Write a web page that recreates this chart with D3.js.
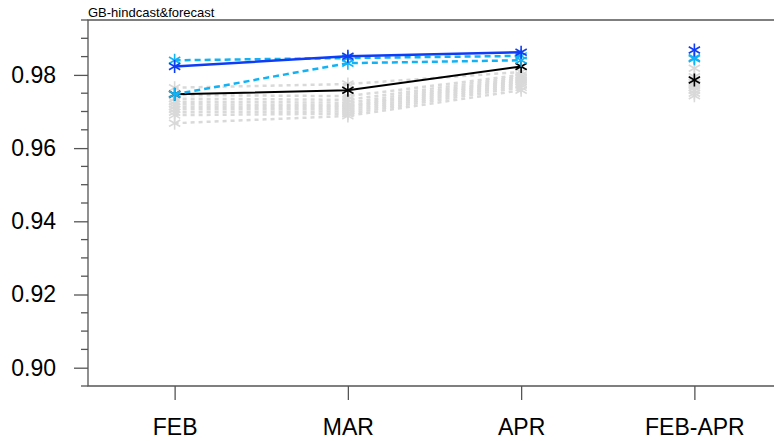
<!DOCTYPE html>
<html>
<head>
<meta charset="utf-8">
<script src="https://cdn.jsdelivr.net/npm/d3@7"></script>
<style>
  body { margin: 0; background: #fff; }
  svg { display: block; font-family: "Liberation Sans", Arial, Helvetica, sans-serif; }
</style>
</head>
<body>
<svg id="chart" width="774" height="441"></svg>
<script>
// categories on the x axis; the last one is a season mean shown as markers only
const periods = [ 'FEB', 'MAR', 'APR', 'FEB-APR' ]
const yTicks = [ 0.90, 0.92, 0.94, 0.96, 0.98 ]
const title = 'GB-hindcast&forecast'

// series values, one per period
const blueSolid = [ 0.9823, 0.9851, 0.9862, 0.9868 ]
const blackSolid = [ 0.9747, 0.9758, 0.9823, 0.9786 ]
const cyanUpper = [ 0.9840, 0.9846, 0.9852, 0.9847 ]
const cyanLower = [ 0.9747, 0.9832, 0.9840, 0.9844 ]

// grey ensemble members
const greyMembers = [
  [ 0.9765, 0.9775, 0.9808, 0.9818 ],
  [ 0.9745, 0.9742, 0.9800, 0.9795 ],
  [ 0.9735, 0.9732, 0.9795, 0.9788 ],
  [ 0.9727, 0.9724, 0.9790, 0.9780 ],
  [ 0.9720, 0.9717, 0.9786, 0.9775 ],
  [ 0.9713, 0.9712, 0.9782, 0.9770 ],
  [ 0.9706, 0.9706, 0.9777, 0.9765 ],
  [ 0.9698, 0.9700, 0.9772, 0.9758 ],
  [ 0.9690, 0.9694, 0.9766, 0.9750 ],
  [ 0.9668, 0.9688, 0.9758, 0.9743 ]
]

const svg = d3.select( '#chart' )
const margin = { left: 88, top: 20, right: -7, bottom: 55 }
const width = 774 - margin.left - margin.right,
      height = 441 - margin.top - margin.bottom

const x = d3.scalePoint()
  .domain( periods )
  .range( [ 0, width ] )
  .padding( 0.5 )

const y = d3.scaleLinear()
  .domain( [ 0.895, 0.995 ] )
  .range( [ height, 0 ] )

const g = svg.append( 'g' )
  .attr( 'transform', `translate(${margin.left},${margin.top})` )

const axisColor = '#555'

// frame
g.append( 'path' )
  .attr( 'd', `M${width},0H0V${height}H${width}` )
  .attr( 'fill', 'none' )
  .attr( 'stroke', axisColor )
  .attr( 'stroke-width', 1.3 )

// y axis: majors with labels, minors every 0.005
const yAxis = g.append( 'g' )
yAxis.call( d3.axisLeft( y ).tickValues( yTicks ).tickFormat( d3.format( '.2f' ) ).tickSize( 14 ).tickPadding( 18 ) )
yAxis.select( '.domain' ).remove()
yAxis.selectAll( 'line' ).attr( 'stroke', axisColor ).attr( 'stroke-width', 1.3 )
yAxis.selectAll( 'text' ).attr( 'font-size', 23 ).attr( 'fill', '#000' ).attr( 'font-family', null )

const minor = d3.range( 0, 21 ).map( i => 0.895 + i * 0.005 ).filter( v => !yTicks.some( t => Math.abs( t - v ) < 1e-6 ) )
g.append( 'g' ).selectAll( 'line' )
  .data( minor )
  .join( 'line' )
  .attr( 'x1', -7 ).attr( 'x2', 0 )
  .attr( 'y1', d => y( d ) ).attr( 'y2', d => y( d ) )
  .attr( 'stroke', axisColor ).attr( 'stroke-width', 1.3 )

// x axis
const xAxis = g.append( 'g' ).attr( 'transform', `translate(0,${height})` )
xAxis.call( d3.axisBottom( x ).tickSize( 14 ).tickPadding( 19 ) )
xAxis.select( '.domain' ).remove()
xAxis.selectAll( 'line' ).attr( 'stroke', axisColor ).attr( 'stroke-width', 1.3 )
xAxis.selectAll( 'text' ).attr( 'font-size', 23 ).attr( 'fill', '#000' ).attr( 'font-family', null )

// title
svg.append( 'text' )
  .attr( 'x', margin.left ).attr( 'y', 17 )
  .attr( 'font-size', 13 )
  .text( title )

const line = d3.line()
  .x( ( d, i ) => x( periods[i] ) )
  .y( d => y( d ) )

// asterisk marker: vertical arm plus two diagonals
function asterisk( sel, values, color, r ) {
  const pts = sel.append( 'g' ).selectAll( 'g' )
    .data( values )
    .join( 'g' )
    .attr( 'transform', ( d, i ) => `translate(${x( periods[i] )},${y( d )})` )
  ;[ 90, 30, -30 ].forEach( a => {
    const dx = r * Math.cos( a * Math.PI / 180 ),
          dy = r * Math.sin( a * Math.PI / 180 )
    pts.append( 'line' )
      .attr( 'x1', -dx ).attr( 'y1', -dy )
      .attr( 'x2', dx ).attr( 'y2', dy )
      .attr( 'stroke', color )
      .attr( 'stroke-width', 1.6 )
  } )
}

function series( values, color, dash, w ) {
  g.append( 'path' )
    .attr( 'd', line( values.slice( 0, 3 ) ) )
    .attr( 'fill', 'none' )
    .attr( 'stroke', color )
    .attr( 'stroke-width', w )
    .attr( 'stroke-dasharray', dash )
  asterisk( g, values, color, 6.5 )
}

greyMembers.forEach( m => series( m, '#d9d9d9', '4,4', 2.5 ) )
series( blackSolid, '#000', null, 2 )
series( cyanLower, '#12b3f5', '6,4', 2.5 )
series( cyanUpper, '#12b3f5', '6,4', 2.5 )
series( blueSolid, '#0f3cf7', null, 2.5 )
</script>
</body>
</html>
